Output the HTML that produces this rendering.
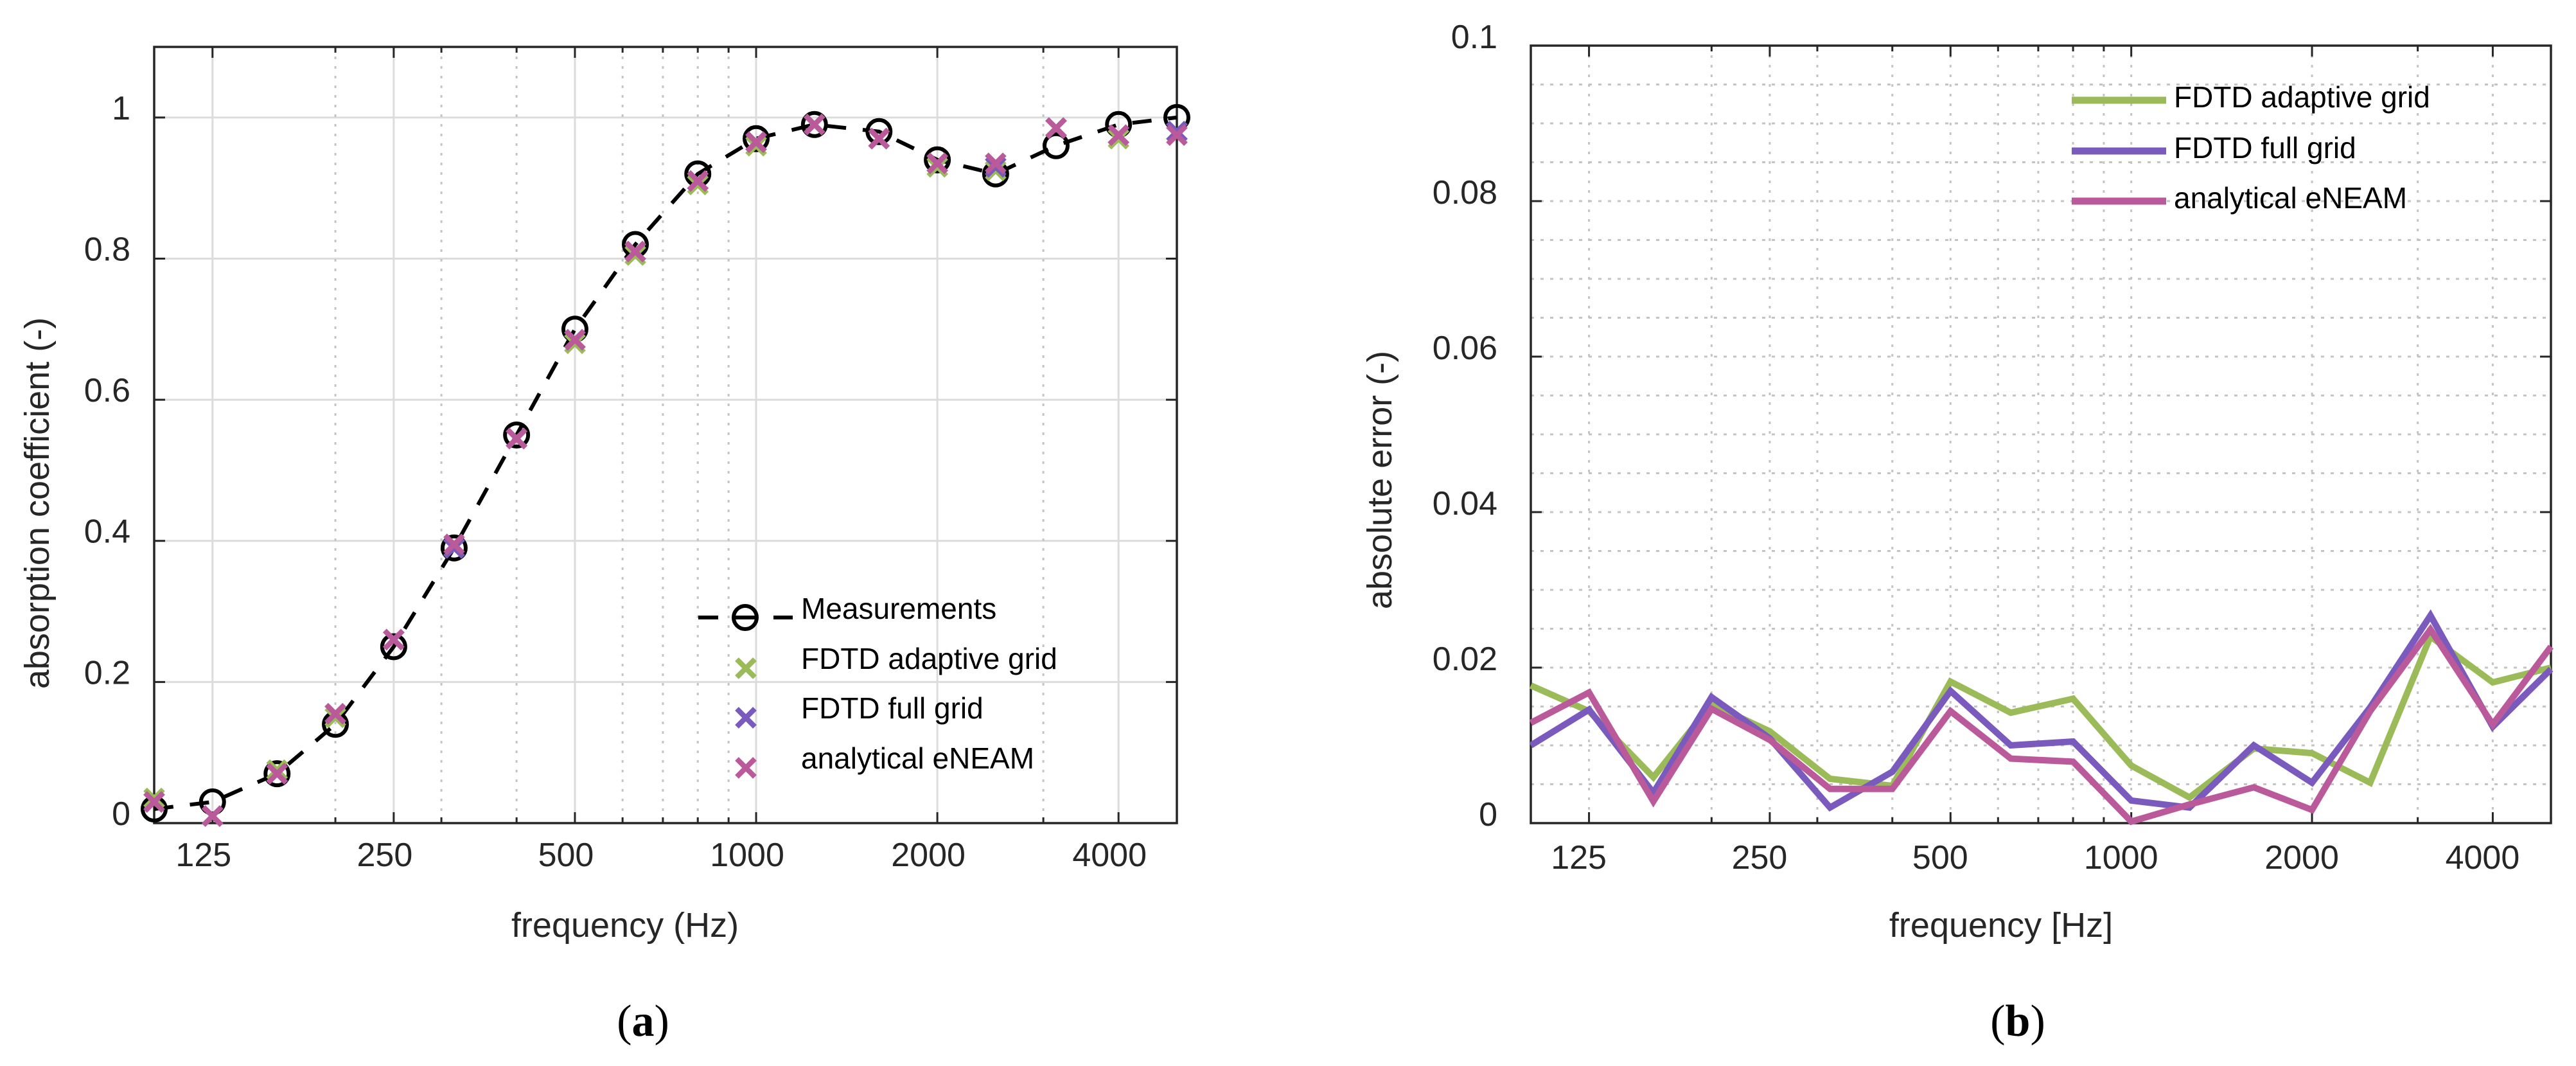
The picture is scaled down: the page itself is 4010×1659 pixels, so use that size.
<!DOCTYPE html>
<html><head><meta charset="utf-8"><style>
html,body{margin:0;padding:0;background:#fff;}
svg{display:block;font-family:"Liberation Sans",sans-serif;}
</style></head><body>
<svg id="fig" width="4010" height="1659" viewBox="0 0 4010 1659" xmlns="http://www.w3.org/2000/svg"></svg>
<script>
const freqs=[100,125,160,200,250,315,400,500,630,800,1000,1250,1600,2000,2500,3150,4000,5000];
const measured=[0.02,0.03,0.07,0.14,0.25,0.39,0.55,0.70,0.82,0.92,0.97,0.99,0.98,0.94,0.92,0.96,0.99,1.0];
const adaptiveAbs=[0.035,0.01,0.075,0.15,0.26,0.39,0.545,0.68,0.805,0.905,0.96,0.99,0.97,0.93,0.925,0.985,0.97,0.98];
const fullAbs=[0.03,0.01,0.07,0.155,0.26,0.39,0.545,0.685,0.81,0.91,0.965,0.99,0.97,0.935,0.93,0.985,0.975,0.98];
const eneamAbs=[0.03,0.01,0.07,0.155,0.26,0.395,0.545,0.685,0.81,0.91,0.965,0.99,0.97,0.935,0.935,0.985,0.975,0.975];
const adaptiveErr=[0.0177,0.0144,0.0059,0.0153,0.0118,0.0057,0.0048,0.0182,0.0142,0.016,0.0074,0.0033,0.0096,0.009,0.0052,0.024,0.0181,0.02];
const fullErr=[0.01,0.0146,0.0039,0.0162,0.0109,0.002,0.0066,0.017,0.01,0.0105,0.0029,0.002,0.01,0.0052,0.0149,0.0267,0.0124,0.0198];
const eneamErr=[0.0129,0.0168,0.0028,0.0147,0.0107,0.0044,0.0044,0.0144,0.0083,0.0079,0.0002,0.0024,0.0046,0.0017,0.0144,0.0249,0.0127,0.0227];
const xTickLabels=[125,250,500,1000,2000,4000];
const minorX=[200,300,400,600,700,800,900,3000];
const leftYTicks=[0,0.2,0.4,0.6,0.8,1];
const rightYTicks=[0,0.02,0.04,0.06,0.08,0.1];

const NS="http://www.w3.org/2000/svg";
const svg=document.getElementById('fig');
function el(tag,attrs,parent,text){const e=document.createElementNS(NS,tag);for(const k in attrs)e.setAttribute(k,attrs[k]);if(text!==undefined)e.textContent=text;(parent||svg).appendChild(e);return e;}
const C={green:'#9bbb59',purple:'#7a5abd',pink:'#bb5a9a',frame:'#262626'};

function makeAxes(L,R,T,B,ymax,name){
  const xs=f=>L+(R-L)*Math.log2(f/100)/Math.log2(50);
  const ys=v=>B-(B-T)*v/ymax;
  return {L,R,T,B,xs,ys,name};
}
const A=makeAxes(240,1832,73,1281,1.1,'a');
const Bx=makeAxes(2383,3971,71,1281,0.1,'b');

// ---------- Panel (a) ----------
let g=el('g',{});
let grid=el('g',{},g);
for(const v of leftYTicks){if(v===0)continue;el('line',{x1:A.L,x2:A.R,y1:A.ys(v),y2:A.ys(v),stroke:'#dcdcdc','stroke-width':3},grid);}
for(const f of xTickLabels){el('line',{x1:A.xs(f),x2:A.xs(f),y1:A.T,y2:A.B,stroke:'#dcdcdc','stroke-width':3},grid);}
for(const f of minorX){el('line',{x1:A.xs(f),x2:A.xs(f),y1:A.T,y2:A.B,stroke:'#c4c4c4','stroke-width':3,'stroke-dasharray':'4 11'},grid);}
// ticks
for(const f of xTickLabels){const x=A.xs(f);el('line',{x1:x,x2:x,y1:A.B,y2:A.B-17,stroke:C.frame,'stroke-width':3},g);el('line',{x1:x,x2:x,y1:A.T,y2:A.T+17,stroke:C.frame,'stroke-width':3},g);
  const t=el('text',{x:x-14,y:1348,'font-size':52,'text-anchor':'middle',fill:'#262626'},g,String(f));}
for(const f of minorX){const x=A.xs(f);el('line',{x1:x,x2:x,y1:A.B,y2:A.B-9,stroke:C.frame,'stroke-width':3},g);el('line',{x1:x,x2:x,y1:A.T,y2:A.T+9,stroke:C.frame,'stroke-width':3},g);}
for(const v of leftYTicks){const y=A.ys(v);el('line',{x1:A.L,x2:A.L+17,y1:y,y2:y,stroke:C.frame,'stroke-width':3},g);el('line',{x1:A.R,x2:A.R-17,y1:y,y2:y,stroke:C.frame,'stroke-width':3},g);
  const t=el('text',{x:203,y:y+3,'font-size':52,'text-anchor':'end',fill:'#262626'},g,String(v));}
el('rect',{x:A.L,y:A.T,width:A.R-A.L,height:A.B-A.T,fill:'none',stroke:C.frame,'stroke-width':3.5},g);
// measurement line
let pts=freqs.map((f,i)=>A.xs(f)+','+A.ys(measured[i])).join(' ');
let ml=el('polyline',{points:pts,fill:'none',stroke:'#000','stroke-width':6,'stroke-dasharray':'30 26'},g);


for(let i=0;i<freqs.length;i++){const c=el('circle',{cx:A.xs(freqs[i]),cy:A.ys(measured[i]),r:18,fill:'none',stroke:'#000','stroke-width':6},g);
  
  }
function cross(x,y,col,parent,s){s=s||14;const gg=el('g',{},parent);el('line',{x1:x-s,y1:y-s,x2:x+s,y2:y+s,stroke:col,'stroke-width':8},gg);el('line',{x1:x-s,y1:y+s,x2:x+s,y2:y-s,stroke:col,'stroke-width':8},gg);return gg;}
[[adaptiveAbs,C.green,'adaptive-grid-marker'],[fullAbs,C.purple,'full-grid-marker'],[eneamAbs,C.pink,'eneam-marker']].forEach(([arr,col,nm])=>{
  for(let i=0;i<freqs.length;i++){const m=cross(A.xs(freqs[i]),A.ys(arr[i]),col,g);
    
    }
});
// legend a
let lg=el('g',{},g);
el('line',{x1:1087,x2:1118,y1:961,y2:961,stroke:'#000','stroke-width':6},lg);
el('line',{x1:1204,x2:1234,y1:961,y2:961,stroke:'#000','stroke-width':6},lg);
el('circle',{cx:1160,cy:961,r:18,fill:'none',stroke:'#000','stroke-width':6},lg);
el('line',{x1:1145,x2:1175,y1:961,y2:961,stroke:'#000','stroke-width':6},lg);
cross(1161,1040,C.green,lg);cross(1161,1117,C.purple,lg);cross(1161,1195,C.pink,lg);
[['Measurements',963],['FDTD adaptive grid',1041],['FDTD full grid',1118],['analytical eNEAM',1196]].forEach(([t,y])=>{const e=el('text',{x:1247,y:y,'font-size':46,fill:'#000'},lg,t);});
let t1=el('text',{x:973,y:1458,'font-size':54,'text-anchor':'middle',fill:'#262626'},g,'frequency (Hz)');
let t2=el('text',{x:0,y:0,'font-size':54,'text-anchor':'middle',fill:'#262626',transform:'translate(76,783) rotate(-90)'},g,'absorption coefficient (-)');
let t3=el('text',{x:1001,y:1612,'font-size':70,'text-anchor':'middle','font-family':'Liberation Serif, serif',fill:'#000'},g);
el('tspan',{},t3,'(');el('tspan',{'font-weight':'bold'},t3,'a');el('tspan',{},t3,')');

// ---------- Panel (b) ----------
g=el('g',{});
grid=el('g',{},g);
for(let k=1;k<20;k++){const y=Bx.ys(k*0.005);el('line',{x1:Bx.L,x2:Bx.R,y1:y,y2:y,stroke:'#c4c4c4','stroke-width':3,'stroke-dasharray':'5 10'},grid);}
for(const f of xTickLabels.concat(minorX)){el('line',{x1:Bx.xs(f),x2:Bx.xs(f),y1:Bx.T,y2:Bx.B,stroke:'#c4c4c4','stroke-width':3,'stroke-dasharray':'4 11'},grid);}
for(const f of xTickLabels){const x=Bx.xs(f);el('line',{x1:x,x2:x,y1:Bx.B,y2:Bx.B-17,stroke:C.frame,'stroke-width':3},g);el('line',{x1:x,x2:x,y1:Bx.T,y2:Bx.T+17,stroke:C.frame,'stroke-width':3},g);
  const t=el('text',{x:x-16,y:1352,'font-size':52,'text-anchor':'middle',fill:'#262626'},g,String(f));}
for(const f of minorX){const x=Bx.xs(f);el('line',{x1:x,x2:x,y1:Bx.B,y2:Bx.B-9,stroke:C.frame,'stroke-width':3},g);el('line',{x1:x,x2:x,y1:Bx.T,y2:Bx.T+9,stroke:C.frame,'stroke-width':3},g);}
for(const v of rightYTicks){const y=Bx.ys(v);el('line',{x1:Bx.L,x2:Bx.L+17,y1:y,y2:y,stroke:C.frame,'stroke-width':3},g);el('line',{x1:Bx.R,x2:Bx.R-17,y1:y,y2:y,stroke:C.frame,'stroke-width':3},g);
  const t=el('text',{x:2331,y:y+4,'font-size':52,'text-anchor':'end',fill:'#262626'},g,String(v));}
el('rect',{x:Bx.L,y:Bx.T,width:Bx.R-Bx.L,height:Bx.B-Bx.T,fill:'none',stroke:C.frame,'stroke-width':3.5},g);
[[adaptiveErr,C.green,'adaptive-grid-line'],[fullErr,C.purple,'full-grid-line'],[eneamErr,C.pink,'eneam-line']].forEach(([arr,col,nm])=>{
  const p=el('polyline',{points:freqs.map((f,i)=>Bx.xs(f)+','+Bx.ys(arr[i])).join(' '),fill:'none',stroke:col,'stroke-width':10,'stroke-linejoin':'miter'},g);
  
  
});
lg=el('g',{},g);
[['FDTD adaptive grid',C.green,156],['FDTD full grid',C.purple,235],['analytical eNEAM',C.pink,313]].forEach(([t,col,y])=>{
  el('line',{x1:3225,x2:3372,y1:y,y2:y,stroke:col,'stroke-width':11},lg);
  const e=el('text',{x:3384,y:y+11,'font-size':46,fill:'#000'},lg,t);
});
t1=el('text',{x:3115,y:1458,'font-size':54,'text-anchor':'middle',fill:'#262626'},g,'frequency [Hz]');
t2=el('text',{x:0,y:0,'font-size':54,'text-anchor':'middle',fill:'#262626',transform:'translate(2166,747) rotate(-90)'},g,'absolute error (-)');
t3=el('text',{x:3141,y:1612,'font-size':70,'text-anchor':'middle','font-family':'Liberation Serif, serif',fill:'#000'},g);
el('tspan',{},t3,'(');el('tspan',{'font-weight':'bold'},t3,'b');el('tspan',{},t3,')');
</script>
</body></html>
